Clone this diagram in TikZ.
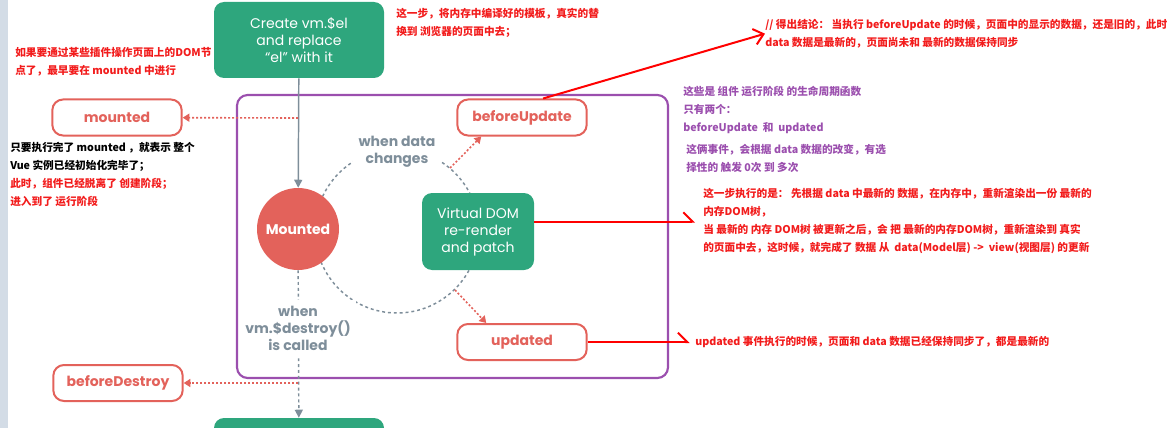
\documentclass[tikz,border=0pt]{standalone}
\usepackage{fontspec}
\setmainfont{Poppins}
\newfontfamily\cjk{Noto Sans CJK SC}
\usepackage[rgb]{xcolor}
\definecolor{vgreen}{HTML}{2EA67D}
\definecolor{hookred}{HTML}{E3625B}
\definecolor{flowgray}{HTML}{7E8E9A}
\definecolor{phase}{HTML}{9B4FAE}
\definecolor{notered}{HTML}{F21C1C}
\definecolor{strip}{HTML}{D3DCE6}
\usepackage{tikz}
\usetikzlibrary{arrows.meta}

\begin{document}
\begin{tikzpicture}[x=0.75pt,y=-0.75pt,
	hook/.style={draw=hookred, line width=1.5pt, rounded corners=8pt, fill=white, text=hookred, minimum width=97pt, minimum height=27pt, font=\bfseries\fontsize{10.5}{12}\selectfont},
	stepbox/.style={fill=vgreen, rounded corners=7.5pt, text=white, align=center, font=\fontsize{10.5}{12.75}\selectfont},
	cond/.style={fill=white, text=flowgray, align=center, inner sep=4pt, font=\bfseries\fontsize{10.5}{12.75}\selectfont},
	flow/.style={flowgray, line width=1.1pt, dash pattern=on 2.2pt off 2.2pt},
	hooklink/.style={hookred, line width=1.2pt, dash pattern=on 1.5pt off 1.5pt, -{Triangle[length=5pt,width=6pt]}},
	note/.style={anchor=north west, inner sep=0pt, align=left, text=notered, font=\cjk\bfseries\fontsize{8}{13.5}\selectfont},
	noteline/.style={red, line width=1.5pt}]
	\useasboundingbox (0,0) rectangle (1174,428);
	\fill[strip] (0,0) rectangle (8,428);
	\draw[phase, line width=1.6pt, rounded corners=8pt] (237,95) rectangle (668,378);
	\draw[flow] (397,231) circle[radius=82];

	\node[stepbox, minimum width=127.5pt, minimum height=57pt] at (299,40) (create) {Create vm.\$el\\and replace\\“el” with it};
	\node[circle, fill=hookred, minimum size=61.5pt, text=white, font=\bfseries\fontsize{10.5}{12}\selectfont] at (298,229) (mnt) {Mounted};
	\node[stepbox, minimum width=84pt, minimum height=57.75pt] at (478,231.5) (vdom) {Virtual DOM\\re-render\\and patch};
	\node[stepbox, minimum width=127.5pt, minimum height=57pt] at (299,456) (destroy) {};
	\node[cond] at (397,152) (change) {when data\\changes};

	\node[hook] at (117,117.5) (mounted) {mounted};
	\node[hook] at (522,117.5) (bu) {beforeUpdate};
	\node[hook] at (522,342) (up) {updated};
	\node[hook] at (118,383) (bd) {beforeDestroy};

	\coordinate (m1) at (298,118);
	\coordinate (d1) at (298,383);
	\coordinate (bu0) at (450,168);
	\coordinate (up0) at (455,290);

	\draw[-{Triangle[length=6pt,width=6pt]}] (create) edge[flowgray, line width=1.1pt] (mnt);
	\draw[flow, -{Triangle[length=6pt,width=6pt]}] (mnt) -- (destroy);
	\node[cond] at (298,328) (called) {when\\vm.\$destroy()\\is called};

	\draw[hooklink] (m1) -- (mounted);
	\draw[hooklink] (d1) -- (bd);
	\draw[hooklink] (bu0) -- (bu.205);
	\draw[hooklink] (up0) -- (up.152);

	% notes
	\node[note] at (396,8) (replace) {这一步，将内存中编译好的模板，真实的替\\换到 浏览器的页面中去；};
	\node[note] at (15,47) (plugin) {如果要通过某些插件操作页面上的DOM节\\点了，最早要在 mounted 中进行};
	\node[note, text=black] at (10,142) (ready) {只要执行完了 mounted ，就表示 整个\\Vue 实例已经初始化完毕了；\\\textcolor{notered}{此时，组件已经脱离了 创建阶段；}\\\textcolor{notered}{进入到了 运行阶段}};
	\node[note] at (765,19) (concl) {// 得出结论： 当执行 beforeUpdate 的时候，页面中的显示的数据，还是旧的，此时\\data 数据是最新的，页面尚未和 最新的数据保持同步};
	\node[note, text=phase] at (683,86) (hooks) {这些是 组件 运行阶段 的生命周期函数\\只有两个：\\beforeUpdate \ 和 \ updated};
	\node[note, text=phase] at (686,144) (times) {这俩事件，会根据 data 数据的改变，有选\\择性的 触发 0次 到 多次};
	\node[note] at (703,188) (render) {这一步执行的是： 先根据 data 中最新的 数据，在内存中，重新渲染出一份 最新的\\内存DOM树，\\当 最新的 内存 DOM树 被更新之后，会 把 最新的内存DOM树，重新渲染到 真实\\的页面中去，这时候，就完成了 数据 从 \ data(Model层) -> \ view(视图层) 的更新};
	\node[note] at (695,336) (synced) {updated 事件执行的时候，页面和 data 数据已经保持同步了，都是最新的};

	\draw[noteline, -{Straight Barb[length=7pt,width=12pt]}] (bu.42) -- (concl.west);
	\draw[noteline, shorten >=6pt, -{Straight Barb[harpoon,length=7pt,width=14pt]}] (vdom.10) -- (vdom.10 -| render.west);
	\draw[noteline, shorten >=4pt, -{Straight Barb[harpoon,length=7pt,width=14pt]}] (up.east) -- (up.east -| synced.west);
\end{tikzpicture}
\end{document}
